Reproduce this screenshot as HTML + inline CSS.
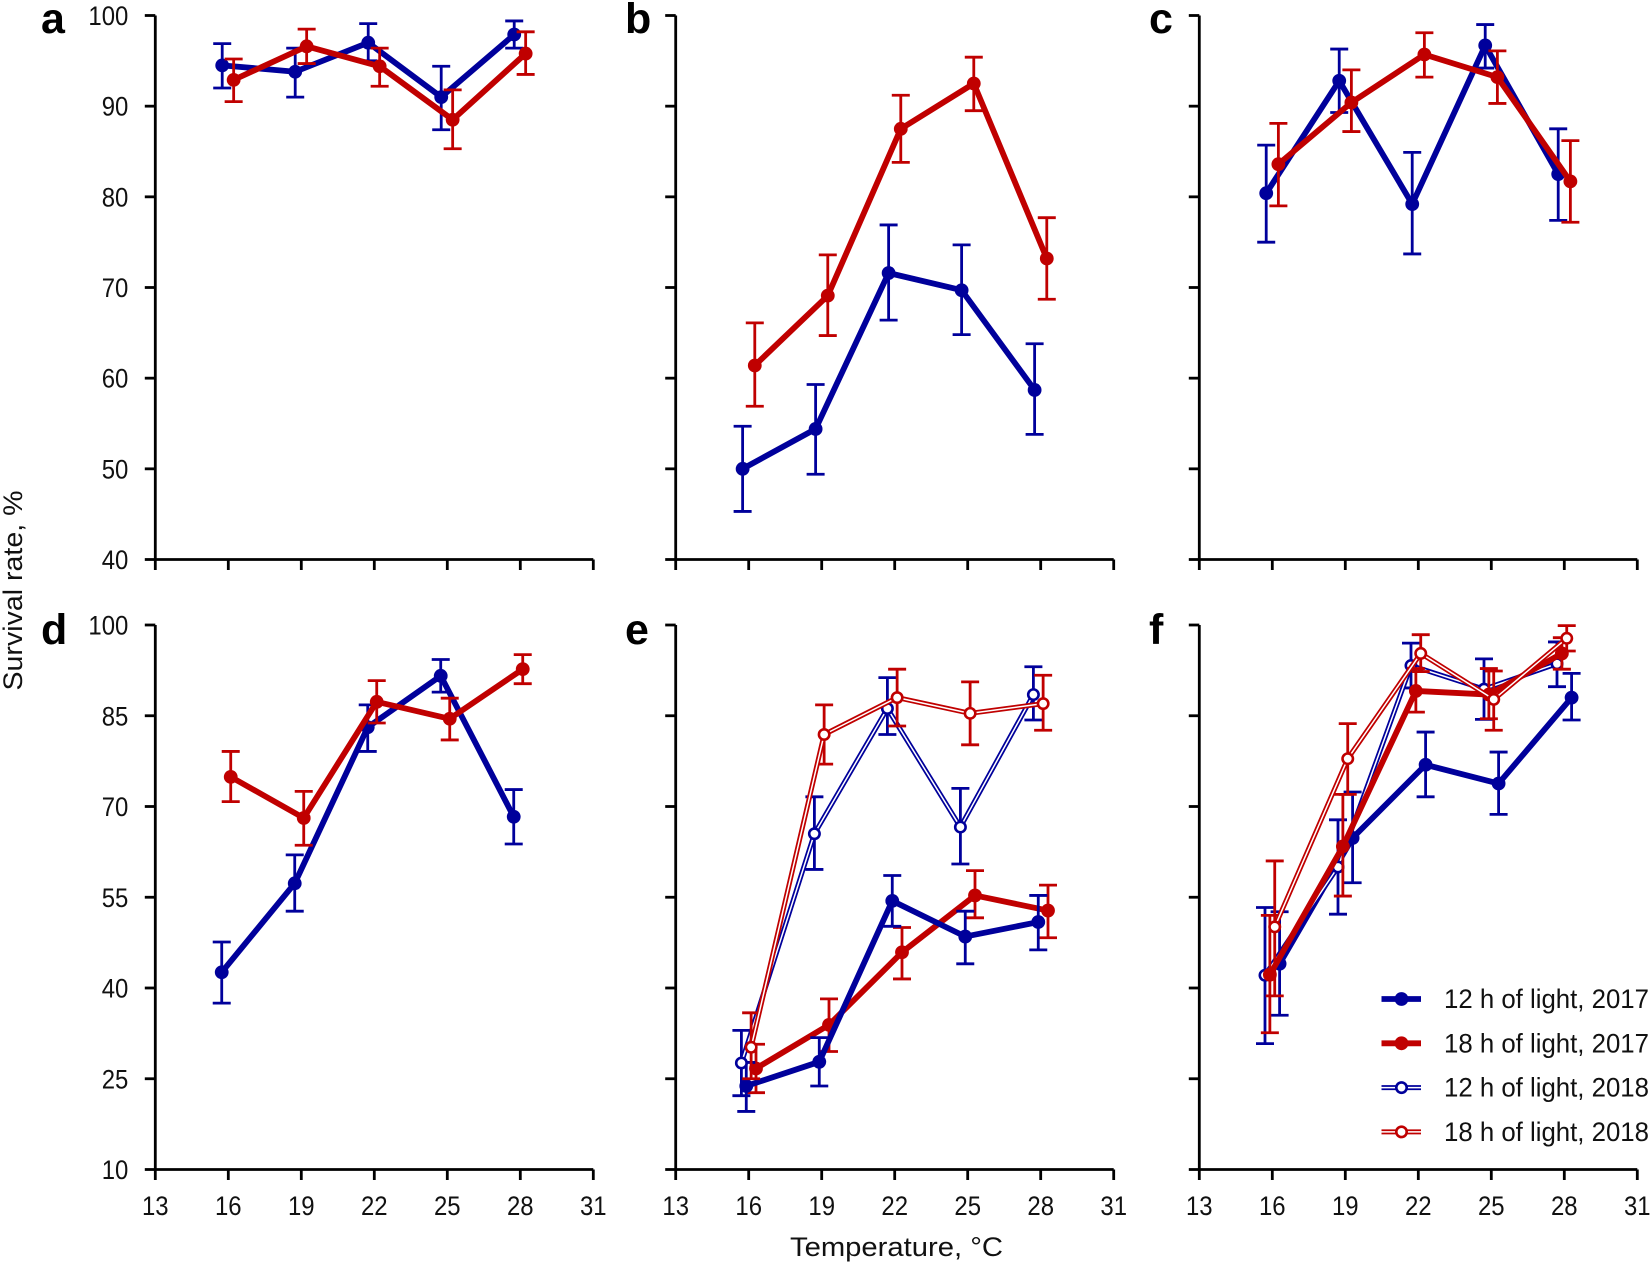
<!DOCTYPE html>
<html lang="en">
<head>
<meta charset="utf-8">
<title>Survival rate vs temperature</title>
<style>
html,body{margin:0;padding:0;background:#fff;}
#chart{display:block;width:1650px;height:1262px;}
text{font-family:"Liberation Sans",sans-serif;fill:#111;}
</style>
</head>
<body>
<svg id="chart" xmlns="http://www.w3.org/2000/svg" width="1650" height="1262" viewBox="0 0 1650 1262"></svg>
<script>
// ---------- shared categories and ticks ----------
const temps = [16, 19, 22, 25, 28];
const xTicks = [13, 16, 19, 22, 25, 28, 31];
const yTicksTop = [40, 50, 60, 70, 80, 90, 100];
const yTicksBottom = [10, 25, 40, 55, 70, 85, 100];
const legendLabels = ["12 h of light, 2017", "18 h of light, 2017", "12 h of light, 2018", "18 h of light, 2018"];

// ---------- panel a ----------
const aBlueMean = [94.5, 93.8, 97.0, 91.0, 97.9];
const aBlueHi = [96.9, 96.4, 99.1, 94.4, 99.4];
const aBlueLo = [92.0, 91.0, 95.0, 87.4, 96.4];
const aRedMean = [92.9, 96.6, 94.4, 88.5, 95.8];
const aRedHi = [95.2, 98.5, 96.4, 91.8, 98.2];
const aRedLo = [90.5, 94.7, 92.2, 85.3, 93.5];

// ---------- panel b ----------
const bBlueMean = [50.0, 54.4, 71.6, 69.7, 58.7];
const bBlueHi = [54.7, 59.3, 76.9, 74.7, 63.8];
const bBlueLo = [45.3, 49.4, 66.4, 64.8, 53.8];
const bRedMean = [61.4, 69.1, 87.5, 92.5, 73.2];
const bRedHi = [66.1, 73.6, 91.2, 95.4, 77.7];
const bRedLo = [56.9, 64.7, 83.8, 89.5, 68.7];

// ---------- panel c ----------
const cBlueMean = [80.4, 92.8, 79.2, 96.7, 82.5];
const cBlueHi = [85.7, 96.3, 84.9, 99.0, 87.5];
const cBlueLo = [75.0, 89.3, 73.7, 94.2, 77.4];
const cRedMean = [83.6, 90.4, 95.7, 93.2, 81.7];
const cRedHi = [88.1, 94.0, 98.1, 96.1, 86.2];
const cRedLo = [79.0, 87.2, 93.2, 90.3, 77.2];

// ---------- panel d ----------
const dBlueMean = [42.6, 57.3, 83.1, 91.6, 68.3];
const dBlueHi = [47.6, 62.0, 86.8, 94.3, 72.8];
const dBlueLo = [37.5, 52.7, 79.1, 88.9, 63.8];
const dRedMean = [74.9, 68.1, 87.3, 84.5, 92.7];
const dRedHi = [79.1, 72.5, 90.8, 87.9, 95.1];
const dRedLo = [70.8, 63.6, 83.8, 81.0, 90.3];

// ---------- panel e ----------
const eBlue17Mean = [23.8, 27.8, 54.4, 48.5, 50.9];
const eBlue17Hi = [27.7, 31.8, 58.6, 52.7, 55.3];
const eBlue17Lo = [19.6, 23.8, 50.2, 44.0, 46.3];
const eRed17Mean = [26.7, 33.9, 45.9, 55.3, 52.8];
const eRed17Hi = [30.7, 38.2, 50.0, 59.4, 57.0];
const eRed17Lo = [22.7, 29.5, 41.5, 51.6, 48.3];
const eBlue18Mean = [27.6, 65.5, 86.2, 66.6, 88.5];
const eBlue18Hi = [33.0, 71.6, 91.3, 73.0, 93.1];
const eBlue18Lo = [22.2, 59.6, 81.9, 60.5, 84.3];
const eRed18Mean = [30.2, 81.9, 88.0, 85.4, 87.0];
const eRed18Hi = [35.9, 86.8, 92.7, 90.6, 91.7];
const eRed18Lo = [25.0, 77.0, 83.3, 80.2, 82.6];

// ---------- panel f ----------
const fBlue17Mean = [44.0, 64.8, 76.9, 73.8, 88.0];
const fBlue17Hi = [52.6, 72.4, 82.3, 79.0, 92.0];
const fBlue17Lo = [35.5, 57.4, 71.6, 68.7, 84.3];
const fRed17Mean = [42.2, 63.4, 89.1, 88.5, 95.3];
const fRed17Hi = [52.0, 72.0, 92.8, 92.8, 97.9];
const fRed17Lo = [32.6, 55.2, 85.6, 84.5, 92.7];
const fBlue18Mean = [42.1, 60.0, 93.3, 89.4, 93.6];
const fBlue18Hi = [53.3, 67.8, 97.0, 94.4, 97.2];
const fBlue18Lo = [30.8, 52.2, 89.6, 84.4, 89.8];
const fRed18Mean = [50.1, 77.9, 95.3, 87.7, 97.8];
const fRed18Hi = [61.0, 83.7, 98.4, 92.4, 99.9];
const fRed18Lo = [38.7, 72.0, 92.3, 82.6, 95.7];

// ---------- layout ----------
const BLUE = "#00009b";
const RED = "#c00000";
const NS = "http://www.w3.org/2000/svg";
const svg = document.getElementById("chart");
const rowLayout = { top: { y0: 15.5, y1: 559.5, min: 40, max: 100 }, bottom: { y0: 625, y1: 1169.5, min: 10, max: 100 } };
const colLayout = [155.3, 675.7, 1199.3];
const AXIS_W = 438;

const panels = [
  { id: "a", col: 0, row: "top", yLabels: true, xLabels: false, series: [
    { key: "blue-2017", color: BLUE, open: false, off: -0.25, mean: aBlueMean, hi: aBlueHi, lo: aBlueLo },
    { key: "red-2017", color: RED, open: false, off: 0.22, mean: aRedMean, hi: aRedHi, lo: aRedLo } ] },
  { id: "b", col: 1, row: "top", yLabels: false, xLabels: false, series: [
    { key: "blue-2017", color: BLUE, open: false, off: -0.25, mean: bBlueMean, hi: bBlueHi, lo: bBlueLo },
    { key: "red-2017", color: RED, open: false, off: 0.25, mean: bRedMean, hi: bRedHi, lo: bRedLo } ] },
  { id: "c", col: 2, row: "top", yLabels: false, xLabels: false, series: [
    { key: "blue-2017", color: BLUE, open: false, off: -0.25, mean: cBlueMean, hi: cBlueHi, lo: cBlueLo },
    { key: "red-2017", color: RED, open: false, off: 0.25, mean: cRedMean, hi: cRedHi, lo: cRedLo } ] },
  { id: "d", col: 0, row: "bottom", yLabels: true, xLabels: true, series: [
    { key: "blue-2017", color: BLUE, open: false, off: -0.27, mean: dBlueMean, hi: dBlueHi, lo: dBlueLo },
    { key: "red-2017", color: RED, open: false, off: 0.1, mean: dRedMean, hi: dRedHi, lo: dRedLo } ] },
  { id: "e", col: 1, row: "bottom", yLabels: false, xLabels: true, series: [
    { key: "red-2017", color: RED, open: false, off: 0.3, mean: eRed17Mean, hi: eRed17Hi, lo: eRed17Lo },
    { key: "blue-2017", color: BLUE, open: false, off: -0.1, mean: eBlue17Mean, hi: eBlue17Hi, lo: eBlue17Lo },
    { key: "blue-2018", color: BLUE, open: true, off: -0.3, mean: eBlue18Mean, hi: eBlue18Hi, lo: eBlue18Lo },
    { key: "red-2018", color: RED, open: true, off: 0.1, mean: eRed18Mean, hi: eRed18Hi, lo: eRed18Lo } ] },
  { id: "f", col: 2, row: "bottom", yLabels: false, xLabels: true, series: [
    { key: "blue-2017", color: BLUE, open: false, off: 0.3, mean: fBlue17Mean, hi: fBlue17Hi, lo: fBlue17Lo },
    { key: "blue-2018", color: BLUE, open: true, off: -0.3, mean: fBlue18Mean, hi: fBlue18Hi, lo: fBlue18Lo },
    { key: "red-2017", color: RED, open: false, off: -0.1, mean: fRed17Mean, hi: fRed17Hi, lo: fRed17Lo },
    { key: "red-2018", color: RED, open: true, off: 0.1, mean: fRed18Mean, hi: fRed18Hi, lo: fRed18Lo } ] }
];

function make(tag, parent, attrs, content) {
  const node = document.createElementNS(NS, tag);
  for (const k in attrs) node.setAttribute(k, attrs[k]);
  if (content !== undefined) node.textContent = content;
  parent.appendChild(node);
  return node;
}
function xScale(col, t) { return colLayout[col] + (t - xTicks[0]) / (xTicks[xTicks.length - 1] - xTicks[0]) * AXIS_W; }
function yScale(row, v) { const r = rowLayout[row]; return r.y1 - (v - r.min) / (r.max - r.min) * (r.y1 - r.y0); }
function labelWidth(v) { return String(v).length * 13.3; }

function drawAxes(p, g) {
  const yTicks = p.row === "top" ? yTicksTop : yTicksBottom;
  const left = xScale(p.col, xTicks[0]);
  const right = xScale(p.col, xTicks[xTicks.length - 1]);
  const top = yScale(p.row, yTicks[yTicks.length - 1]);
  const base = yScale(p.row, yTicks[0]);
  const axis = make("path", g, { d: `M${left} ${top}V${base}M${left} ${base}H${right}`, fill: "none", stroke: "#000", "stroke-width": 2.8 });
  
  
  yTicks.forEach(v => {
    const y = yScale(p.row, v);
    const tick = make("line", g, { x1: left - 10.5, x2: left, y1: y, y2: y, stroke: "#000", "stroke-width": 2.8 });
    
    
    if (p.yLabels) {
      const lab = make("text", g, { x: left - 27, y: y + 9.5, "text-anchor": "end", "font-size": 26.5, textLength: labelWidth(v), lengthAdjust: "spacingAndGlyphs" }, String(v));
      
      
    }
  });
  xTicks.forEach(t => {
    const x = xScale(p.col, t);
    const tick = make("line", g, { x1: x, x2: x, y1: base, y2: base + 10.5, stroke: "#000", "stroke-width": 2.8 });
    
    
    if (p.xLabels) {
      const lab = make("text", g, { x: x, y: base + 45.5, "text-anchor": "middle", "font-size": 26.5, textLength: labelWidth(t), lengthAdjust: "spacingAndGlyphs" }, String(t));
      
      
    }
  });
}

function drawSeries(p, s, g) {
  const sg = make("g", g, {});
  
  
  const xs = temps.map(t => xScale(p.col, t + s.off));
  temps.forEach((t, i) => {
    const yh = yScale(p.row, s.hi[i]);
    const yl = yScale(p.row, s.lo[i]);
    const bar = make("path", sg, { d: `M${xs[i]} ${yh}V${yl}M${xs[i] - 9} ${yh}H${xs[i] + 9}M${xs[i] - 9} ${yl}H${xs[i] + 9}`, fill: "none", stroke: s.color, "stroke-width": 2.8 });
    
    
  });
  const pts = temps.map((t, i) => xs[i] + "," + yScale(p.row, s.mean[i])).join(" ");
  const line = make("polyline", sg, { points: pts, fill: "none", stroke: s.color, "stroke-width": s.open ? 5 : 5.8, "stroke-linejoin": "round" });
  
  
  if (s.open) {
    const inner = make("polyline", sg, { points: pts, fill: "none", stroke: "#fff", "stroke-width": 1.5, "stroke-linejoin": "round" });
    
    
  }
  temps.forEach((t, i) => {
    const dot = make("circle", sg, { cx: xs[i], cy: yScale(p.row, s.mean[i]), r: s.open ? 5.2 : 6.9, fill: s.open ? "#fff" : s.color, stroke: s.color, "stroke-width": s.open ? 2.6 : 0 });
    
    
  });
}

panels.forEach(p => {
  const g = make("g", svg, {});
  
  
  drawAxes(p, g);
  p.series.forEach(s => drawSeries(p, s, g));
  const labelX = [41, 625, 1149][p.col];
  const labelY = p.row === "top" ? 33 : 644;
  const lab = make("text", g, { x: labelX, y: labelY, "font-size": 43, "font-weight": "bold", style: "fill:#000" }, p.id);
  
  
});

// ---------- axis titles ----------
const yTitle = make("text", svg, { transform: "translate(22,590.5) rotate(-90)", "text-anchor": "middle", "font-size": 27, textLength: 200, lengthAdjust: "spacingAndGlyphs" }, "Survival rate, %");


const xTitle = make("text", svg, { x: 896.5, y: 1256, "text-anchor": "middle", "font-size": 27, textLength: 213, lengthAdjust: "spacingAndGlyphs" }, "Temperature, °C");



// ---------- legend ----------
const legend = make("g", svg, {});


const legendStyles = [{ color: BLUE, open: false }, { color: RED, open: false }, { color: BLUE, open: true }, { color: RED, open: true }];
legendLabels.forEach((label, i) => {
  const st = legendStyles[i];
  const y = 999 + i * 44.3;
  const entry = make("g", legend, {});
  
  
  make("line", entry, { x1: 1381.5, x2: 1421, y1: y, y2: y, stroke: st.color, "stroke-width": st.open ? 5 : 5.8 });
  if (st.open) make("line", entry, { x1: 1381.5, x2: 1421, y1: y, y2: y, stroke: "#fff", "stroke-width": 1.5 });
  make("circle", entry, { cx: 1401.5, cy: y, r: st.open ? 5.2 : 6.9, fill: st.open ? "#fff" : st.color, stroke: st.color, "stroke-width": st.open ? 2.6 : 0 });
  const text = make("text", entry, { x: 1444, y: y + 9, "font-size": 26.5, textLength: 205, lengthAdjust: "spacingAndGlyphs" }, label);
  
  
});
</script>
</body>
</html>
